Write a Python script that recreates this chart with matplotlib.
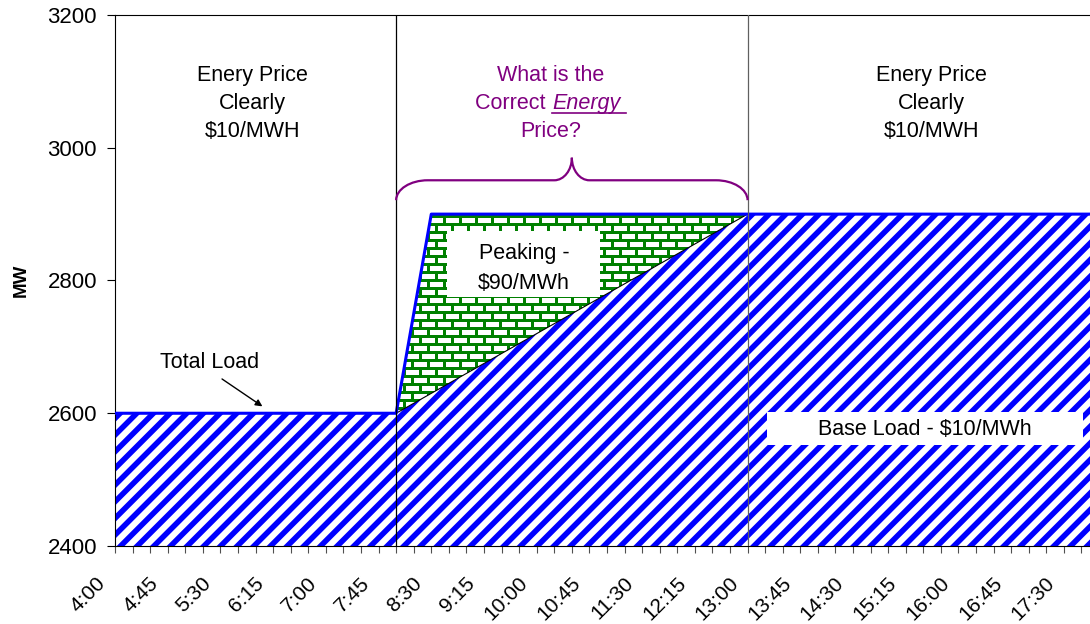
import matplotlib
matplotlib.use("Agg")
import matplotlib.pyplot as plt
import numpy as np
from matplotlib.patches import Polygon, Rectangle, PathPatch
from matplotlib.path import Path
from matplotlib.ticker import MultipleLocator
from matplotlib.transforms import ScaledTranslation

plt.rcParams['font.family'] = ['Liberation Sans', 'DejaVu Sans']
plt.rcParams['hatch.linewidth'] = 4.0

# load profile (MW)
times = ["4:00", "8:00", "8:30", "13:00", "18:00"]
total_load = [2600, 2600, 2900, 2900, 2900]
base_load = [2600, 2600, 2630, 2900, 2900]

window_start = "8:00"
window_end = "13:00"

tick_labels = ["4:00", "4:45", "5:30", "6:15", "7:00", "7:45", "8:30", "9:15",
               "10:00", "10:45", "11:30", "12:15", "13:00", "13:45", "14:30",
               "15:15", "16:00", "16:45", "17:30"]
y_ticks = [2400, 2600, 2800, 3000, 3200]

side_text = ["Enery Price", "Clearly", "$10/MWH"]
peak_text = ["Peaking -", "$90/MWh"]

PURPLE = '#800080'
BLUE = '#0000FF'
GREEN = '#008000'
FS = 15.5


def hrs(t):
    h, m = t.split(":")
    return int(h) + int(m) / 60


x = np.array([hrs(t) for t in times])
t0, t1 = hrs(window_start), hrs(window_end)

fig = plt.figure(figsize=(10.9, 6.24), dpi=100)
ax = fig.add_axes([115 / 1090, 78 / 624, 984 / 1090, 531 / 624])

# base load - blue stripes
ax.fill_between(x, 2400, base_load, facecolor='white', edgecolor=BLUE,
                hatch='//', linewidth=0, zorder=1)

# peaking - green bricks (image clipped to the area between the two curves)
verts = list(zip(x, base_load)) + list(zip(x[::-1], total_load[::-1]))
clip = Polygon(verts, closed=True, fill=False, linewidth=0)
ax.add_patch(clip)
H, W = 531, 984
yy, xx = np.mgrid[0:H, 0:W]
row = yy // 8
mortar = ((yy % 8) < 3) | (((xx + (row % 2) * 8) % 16) < 3)
img = np.ones((H, W, 3))
img[mortar] = matplotlib.colors.to_rgb(GREEN)
im = ax.imshow(img, extent=(4, 18, 2400, 3200), aspect='auto',
               interpolation='nearest', zorder=1.5)
im.set_clip_path(clip)

ax.plot(x, base_load, color='black', lw=0.8, zorder=3)
ax.plot(x, total_load, color=BLUE, lw=2.2, zorder=4)

ax.axvline(t0, color='black', lw=0.9, zorder=5)
ax.axvline(t1, color='#606060', lw=0.9, zorder=5)

ax.set_xlim(4, 18)
ax.set_ylim(2400, 3200)

# axes / ticks
ax.set_yticks(y_ticks)
ax.tick_params(axis='y', length=6, width=0.8, pad=7, labelsize=16)
ax.set_xticks([hrs(t) for t in tick_labels])
ax.set_xticklabels(tick_labels, rotation=45, ha='right', va='center',
                   rotation_mode='anchor', fontsize=15)
ax.xaxis.set_minor_locator(MultipleLocator(0.25))
ax.tick_params(axis='x', which='both', length=5, width=0.8,
               color='#505050', pad=19.5)
shift = ScaledTranslation(-12 / 100, 0, fig.dpi_scale_trans)
for lab in ax.get_xticklabels():
    lab.set_transform(lab.get_transform() + shift)

ax.set_ylabel('MW', fontsize=13.5, fontweight='bold')
ax.yaxis.set_label_coords(-0.087, 0.5)

# text blocks (one line at a time, 28 px apart)
line_y = [3109, 3067, 3025]
for xt in (5.95, 15.62):
    for s, yv in zip(side_text, line_y):
        ax.text(xt, yv, s, ha='center', va='center', fontsize=FS, zorder=6)

xc = 10.2
ax.text(xc, line_y[0], "What is the", ha='center', va='center', fontsize=FS,
        color=PURPLE, zorder=6)
ax.text(xc, line_y[2], "Price?", ha='center', va='center', fontsize=FS,
        color=PURPLE, zorder=6)
ta = ax.text(xc, line_y[1], "Correct ", ha='left', va='center', fontsize=FS,
             color=PURPLE, zorder=6)
tb = ax.text(xc, line_y[1], "Energy", ha='left', va='center', fontsize=FS,
             color=PURPLE, style='italic', zorder=6)

# curly brace over the window
ye, yf, yt = 2921, 2951, 2985
re_, rt = 0.45, 0.25
xm = (t0 + t1) / 2
pts = [(t0, ye),
       (t0, ye + 0.55 * (yf - ye)), (t0 + 0.45 * re_, yf), (t0 + re_, yf),
       (xm - rt, yf),
       (xm - 0.45 * rt, yf), (xm, yf + 0.45 * (yt - yf)), (xm, yt),
       (xm, yf + 0.45 * (yt - yf)), (xm + 0.45 * rt, yf), (xm + rt, yf),
       (t1 - re_, yf),
       (t1 - 0.45 * re_, yf), (t1, ye + 0.55 * (yf - ye)), (t1, ye)]
codes = [Path.MOVETO] + [Path.CURVE4] * 3 + [Path.LINETO] + [Path.CURVE4] * 6 \
    + [Path.LINETO] + [Path.CURVE4] * 3
ax.add_patch(PathPatch(Path(pts, codes), fill=False, edgecolor=PURPLE,
                       lw=1.6, zorder=6))

# peaking label box
ax.add_patch(Rectangle((8.723, 2775), 10.9 - 8.723, 2875 - 2775,
                       facecolor='white', edgecolor='none', zorder=6))
for s, yv in zip(peak_text, [2840, 2796]):
    ax.text(9.82, yv, s, ha='center', va='center', fontsize=FS, zorder=7)

# base load label box
ax.add_patch(Rectangle((13.276, 2552), 17.771 - 13.276, 2602 - 2552,
                       facecolor='white', edgecolor='none', zorder=6))
ax.text(15.52, 2575, "Base Load - $10/MWh", ha='center', va='center',
        fontsize=FS, zorder=7)

# total load pointer
ax.text(5.34, 2676, "Total Load", ha='center', va='center', fontsize=FS,
        zorder=6)
ax.annotate("", xy=(6.13, 2608), xytext=(5.49, 2654),
            arrowprops=dict(arrowstyle='-|>', color='black', lw=1,
                            mutation_scale=10), zorder=6)

# centre the "Correct Energy" line and underline Energy
fig.canvas.draw()
r = fig.canvas.get_renderer()
inv = ax.transData.inverted()
wa = ta.get_window_extent(r).width
bb = tb.get_window_extent(r)
wb = bb.width + 6
px_c = ax.transData.transform((xc, line_y[1]))[0]
start = px_c - (wa + wb) / 2
ta.set_x(inv.transform((start, 0))[0])
tb.set_x(inv.transform((start + wa, 0))[0])
u0 = inv.transform((start + wa, 0))[0]
u1 = inv.transform((start + wa + wb, 0))[0]
ax.plot([u0, u1], [3052, 3052], color=PURPLE, lw=1.2, zorder=6)

fig.savefig("out.png", dpi=100)
